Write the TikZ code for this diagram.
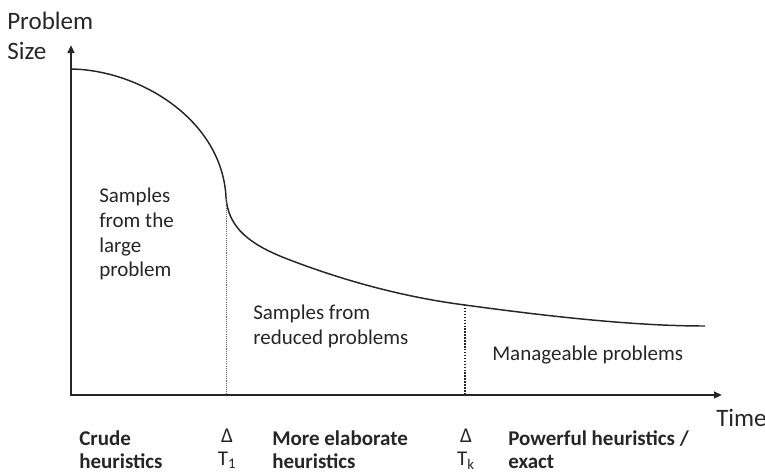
\documentclass[tikz,border=0pt]{standalone}
\usepackage{fontspec}
\setmainfont{Carlito}
\usetikzlibrary{arrows.meta}
\begin{document}
\begin{tikzpicture}[x=0.75pt,y=-0.75pt,
  txt/.style={inner sep=0pt,text=black!85,align=left,anchor=north west},
  lbl/.style={txt,font=\fontsize{15.75}{18.5}\selectfont},
  axlbl/.style={txt,font=\fontsize{18.8}{22.5}\selectfont},
  bot/.style={txt,font=\bfseries\fontsize{15.75}{17.4}\selectfont},
  tick/.style={txt,align=center,anchor=north,font=\fontsize{15.75}{17.4}\selectfont},
  axis/.style={line width=1.5pt,draw=black!85,{Triangle[length=6pt,width=5pt]}-{Triangle[length=6pt,width=5pt]}},
  curve/.style={line width=1.1pt,draw=black!85},
  fine dots/.style={line width=0.6pt,draw=black!60,dash pattern=on 0.8pt off 0.8pt},
  bold dots/.style={line width=1.3pt,draw=black!85,dash pattern=on 1.1pt off 1.1pt}]
\useasboundingbox (0,0) rectangle (765,472);

% axes
\coordinate (ytip) at (71,45);
\coordinate (origin) at (71,395);
\coordinate (xtip) at (722,395);
\draw[axis] (ytip) -- (origin) -- (xtip);

% problem-size curve
\coordinate (start) at (71,69);
\coordinate (t1) at (226,197);
\coordinate (bend) at (290,260);
\coordinate (tk) at (465,305);
\coordinate (finish) at (705,326);
\draw[curve] (start) .. controls (140,70) and (222,120) .. (t1)
  .. controls (228,228) and (250,245) .. (bend)
  .. controls (350,283) and (410,298) .. (tk)
  .. controls (560,318) and (640,326) .. (finish);

% phase boundaries
\coordinate (t1base) at (226,395);
\coordinate (tkbase) at (465,395);
\draw[fine dots] (t1) -- (t1base);
\draw[bold dots] (tk) -- (tkbase);

% axis titles
\node[axlbl] (ylab) at (7,12) {Problem\\Size};
\node[axlbl] (xlab) at (716,409) {Time};

% region labels
\node[lbl] (large) at (99,188) {Samples\\from the\\large\\problem};
\node[lbl] (reduced) at (253,305) {Samples from\\reduced problems};
\node[lbl] (manage) at (492,346) {Manageable problems};

% heuristics along the time axis
\node[bot] (crude) at (79,430) {Crude\\heuristics};
\node[tick] (dt1) at (227,429) {Δ\\T\textsubscript{1}};
\node[bot] (elab) at (272,430) {More elaborate\\heuristics};
\node[tick] (dtk) at (466,429) {Δ\\T\textsubscript{k}};
\node[bot] (power) at (508,430) {Powerful heuristics /\\exact};
\end{tikzpicture}
\end{document}
